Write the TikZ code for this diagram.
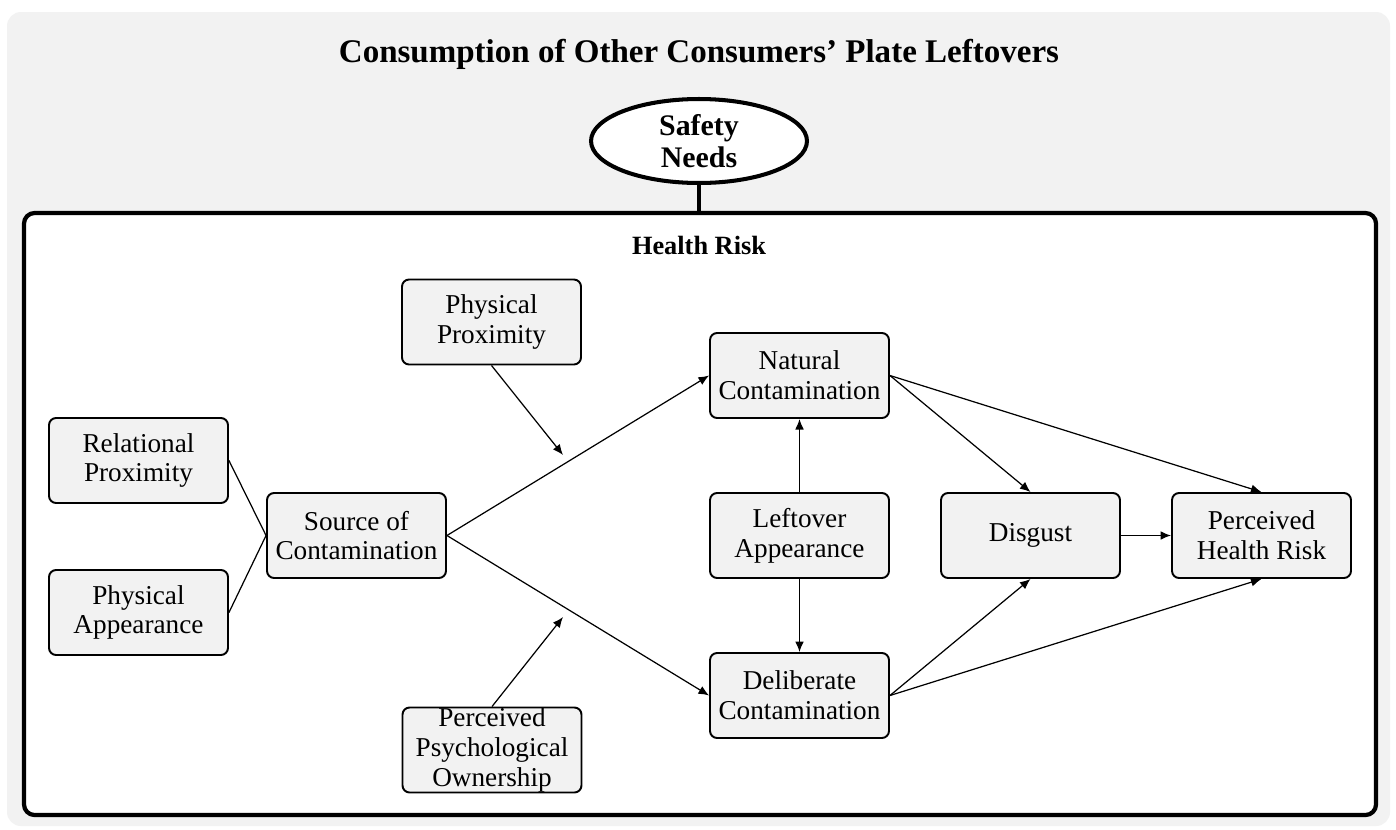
\documentclass[tikz,border=0pt]{standalone}
\usepackage{fontspec}
\setmainfont{Liberation Serif}
\usepackage{tikz}
\usepackage{xcolor}
\usetikzlibrary{arrows.meta}
\usetikzlibrary{shapes}
\usetikzlibrary{shapes.geometric}

\definecolor{hellgrau}{HTML}{F2F2F2}

\tikzset{
  kasten/.style={draw, rounded corners=4pt, fill=hellgrau, line width=1.1pt,
    minimum width=3.58cm, minimum height=1.7cm, inner sep=0pt, align=center,
    font=\fontsize{15.5}{17}\selectfont},
  pfeil/.style={-{Latex[length=6pt, width=5pt]}, line width=0.7pt},
  linie/.style={line width=0.7pt}
}

\begin{document}
\begin{tikzpicture}[x=0.02cm, y=-0.02cm]
\useasboundingbox[fill=white] (0,0) rectangle (1396,829);
% grauer Hintergrund und Rahmen
\fill[hellgrau, rounded corners=8pt] (7,12) rectangle (1390,826);
\draw[line width=2.4pt, rounded corners=6pt, fill=white] (24,213) rectangle (1376,815);
\coordinate (rahmen) at (699,213);

\node (titel) at (699,54) {\fontsize{18.8}{20}\selectfont\bfseries Consumption of Other Consumers’ Plate Leftovers};
\node (safety) [ellipse, draw, fill=white, line width=2.3pt, minimum width=4.32cm, minimum height=1.68cm,
  inner sep=0pt, align=center, font=\fontsize{17}{18}\selectfont\bfseries] at (699,141) {Safety\\Needs};
\draw[line width=2.3pt] (safety.south) -- (rahmen);
\node (health) at (699,245) {\fontsize{15}{17}\selectfont\bfseries Health Risk};

% Kaesten
\node[kasten] (physprox) at (491.5,322) {Physical\\Proximity};
\node[kasten] (relprox) at (138.5,460.5) {Relational\\Proximity};
\node[kasten] (physapp) at (138.5,612.5) {Physical\\Appearance};
\node[kasten] (source) at (356.5,535.5) {Source of\\Contamination};
\node[kasten] (natural) at (799.5,375.5) {Natural\\Contamination};
\node[kasten] (leftover) at (799.5,535.5) {Leftover\\Appearance};
\node[kasten] (deliberate) at (799.5,695.5) {Deliberate\\Contamination};
\node[kasten] (disgust) at (1030.5,535.5) {Disgust};
\node[kasten] (risk) at (1261.5,535.5) {Perceived\\Health Risk};
\node[kasten] (ownership) at (492,750) {Perceived\\Psychological\\Ownership};

% Moderatoren zeigen auf die Pfade
\coordinate (modoben) at (563,455);
\coordinate (modunten) at (563,617);

\draw[linie] (relprox.east) -- (source.west);
\draw[linie] (physapp.east) -- (source.west);
\draw[pfeil] (source.east) -- (natural.west);
\draw[pfeil] (source.east) -- (deliberate.west);
\draw[pfeil] (physprox.south) -- (modoben);
\draw[pfeil] (ownership.north) -- (modunten);
\draw[pfeil] (leftover.north) -- (natural.south);
\draw[pfeil] (leftover.south) -- (deliberate.north);
\draw[pfeil] (natural.east) -- (disgust.north);
\draw[pfeil] (natural.east) -- (risk.north);
\draw[pfeil] (deliberate.east) -- (disgust.south);
\draw[pfeil] (deliberate.east) -- (risk.south);
\draw[pfeil] (disgust.east) -- (risk.west);
\end{tikzpicture}
\end{document}
